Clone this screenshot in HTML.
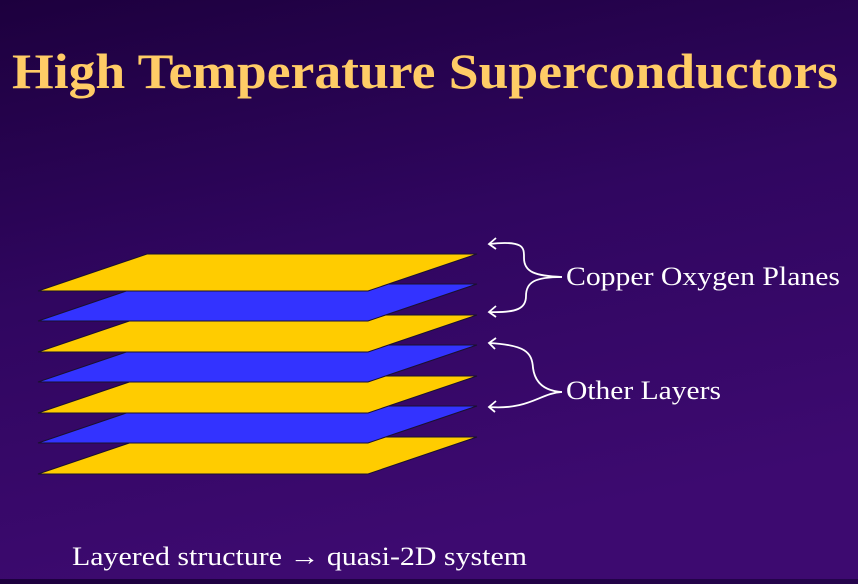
<!DOCTYPE html>
<html><head><meta charset="utf-8"><style>
html,body{margin:0;padding:0}
body{width:858px;height:579px;overflow:hidden;background:linear-gradient(170deg,#1d003e 0%,#2c0758 40%,#3a0a6c 100%)}
</style></head><body>
<svg width="858" height="579" xmlns="http://www.w3.org/2000/svg">
<defs><linearGradient id="bg" x1="0" y1="0" x2="0.3" y2="1"><stop offset="0" stop-color="#1d003e"/><stop offset="0.5" stop-color="#300660"/><stop offset="1" stop-color="#3d0a70"/></linearGradient></defs>
<rect width="858" height="579" fill="url(#bg)"/>
<text x="12" y="88" font-family="Liberation Serif, serif" font-weight="bold" font-size="50" fill="#ffcc66" textLength="826" lengthAdjust="spacingAndGlyphs">High Temperature Superconductors</text>
<g stroke="#1a1030" stroke-width="1">
<polygon points="38,474 147,437 477,437 368,474" fill="#ffcc00"/>
<polygon points="38,443 147,406 477,406 368,443" fill="#3333ff"/>
<polygon points="38,413 147,376 477,376 368,413" fill="#ffcc00"/>
<polygon points="38,382 147,345 477,345 368,382" fill="#3333ff"/>
<polygon points="38,352 147,315 477,315 368,352" fill="#ffcc00"/>
<polygon points="38,321 147,284 477,284 368,321" fill="#3333ff"/>
<polygon points="38,291 147,254 477,254 368,291" fill="#ffcc00"/>
</g>
<g fill="none" stroke="#ffffff" stroke-width="1.8">
<path d="M489,244 C525,240 524,248 524,258 C524,272 535,276 562,277"/>
<path d="M562,277 C535,277 526,282 526,296 C526,308 518,313 489,312"/>
<path d="M489,343 C525,345 532,352 533,368 C535,383 545,391 562,392"/>
<path d="M562,392 C540,393 530,410 489,407"/>
<path d="M496,238 L489,244 L496,249"/>
<path d="M496,306 L489,312 L496,317"/>
<path d="M496,338 L489,343 L495,349"/>
<path d="M496,401 L489,407 L495,412"/>
</g>
<g font-family="Liberation Serif, serif" fill="#ffffff" font-size="26">
<text x="566" y="285" textLength="274" lengthAdjust="spacingAndGlyphs">Copper Oxygen Planes</text>
<text x="566" y="399" textLength="155" lengthAdjust="spacingAndGlyphs">Other Layers</text>
<text x="72" y="565" textLength="455" lengthAdjust="spacingAndGlyphs">Layered structure → quasi-2D system</text>
</g>
</svg>
</body></html>
